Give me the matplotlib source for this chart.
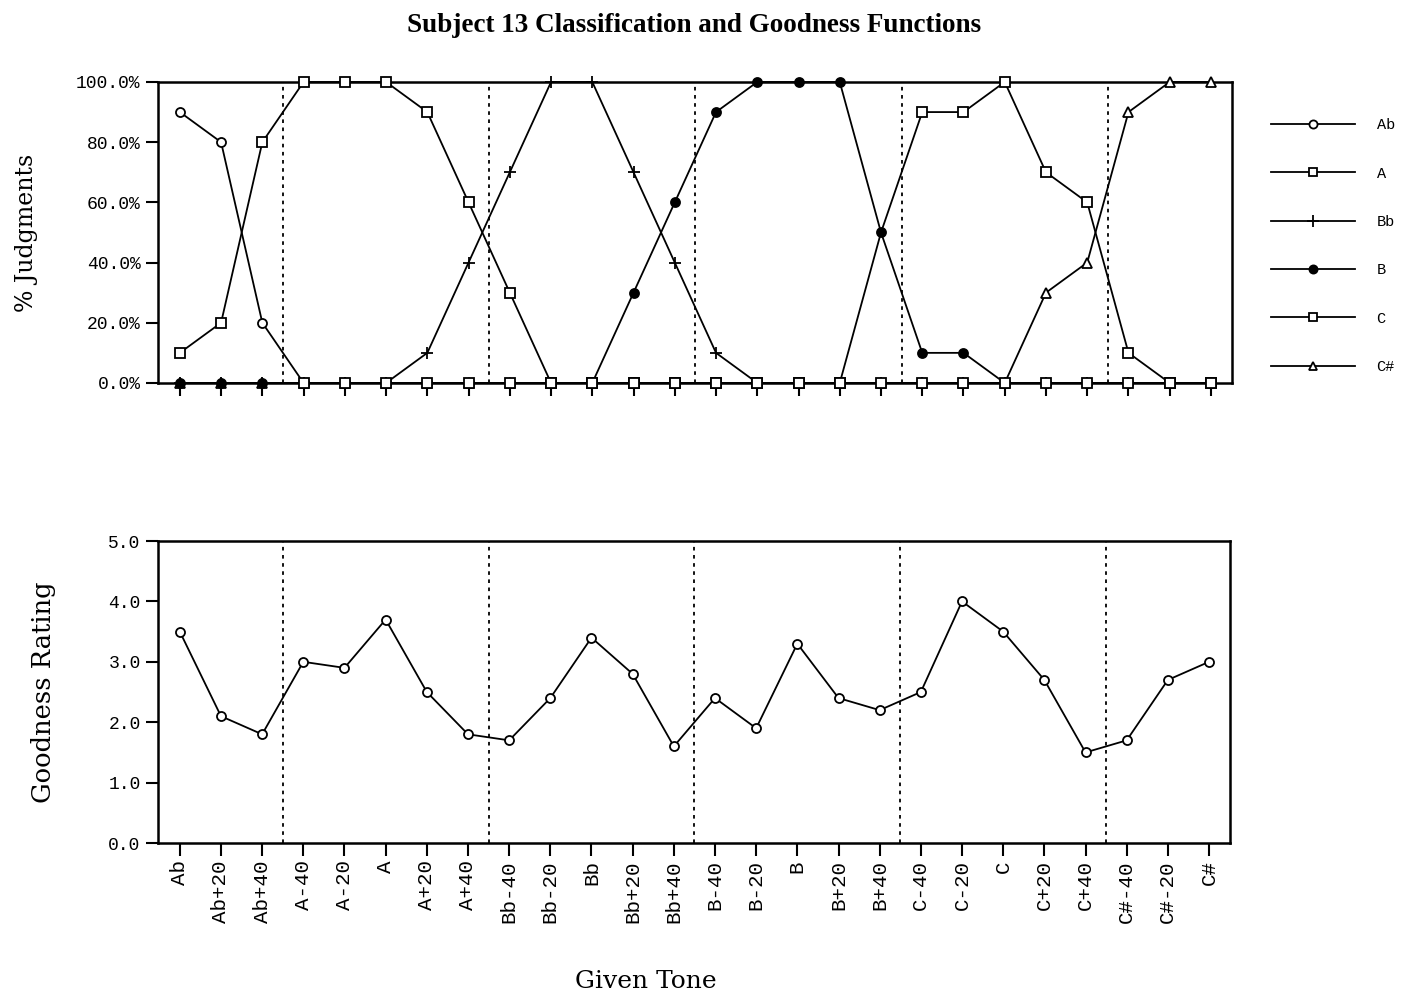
import matplotlib.pyplot as plt
from matplotlib.ticker import FuncFormatter

tones = ["Ab", "Ab+20", "Ab+40", "A-40", "A-20", "A", "A+20", "A+40",
         "Bb-40", "Bb-20", "Bb", "Bb+20", "Bb+40", "B-40", "B-20", "B",
         "B+20", "B+40", "C-40", "C-20", "C", "C+20", "C+40",
         "C#-40", "C#-20", "C#"]

# % judgments per response category
ab_pct = [90, 80, 20, 0, 0, 0, 0, 0, 0, 0, 0, 0, 0, 0, 0, 0, 0, 0, 0, 0, 0, 0, 0, 0, 0, 0]
a_pct = [10, 20, 80, 100, 100, 100, 90, 60, 30, 0, 0, 0, 0, 0, 0, 0, 0, 0, 0, 0, 0, 0, 0, 0, 0, 0]
bb_pct = [0, 0, 0, 0, 0, 0, 10, 40, 70, 100, 100, 70, 40, 10, 0, 0, 0, 0, 0, 0, 0, 0, 0, 0, 0, 0]
b_pct = [0, 0, 0, 0, 0, 0, 0, 0, 0, 0, 0, 30, 60, 90, 100, 100, 100, 50, 10, 10, 0, 0, 0, 0, 0, 0]
c_pct = [0, 0, 0, 0, 0, 0, 0, 0, 0, 0, 0, 0, 0, 0, 0, 0, 0, 50, 90, 90, 100, 70, 60, 10, 0, 0]
cs_pct = [0, 0, 0, 0, 0, 0, 0, 0, 0, 0, 0, 0, 0, 0, 0, 0, 0, 0, 0, 0, 0, 30, 40, 90, 100, 100]

goodness = [3.5, 2.1, 1.8, 3.0, 2.9, 3.7, 2.5, 1.8, 1.7, 2.4, 3.4, 2.8, 1.6,
            2.4, 1.9, 3.3, 2.4, 2.2, 2.5, 4.0, 3.5, 2.7, 1.5, 1.7, 2.7, 3.0]

# number of tones in each note group (for the dotted separators)
group_sizes = [3, 5, 5, 5, 5, 3]

x = list(range(len(tones)))
boundaries = []
pos = -0.5
for n in group_sizes[:-1]:
    pos += n
    boundaries.append(pos)

mono = "Liberation Mono"
serif = "DejaVu Serif"

fig = plt.figure(figsize=(14.08, 9.96), dpi=100)
ax1 = fig.add_axes([0.1122, 0.6155, 0.7628, 0.3022])
ax2 = fig.add_axes([0.1122, 0.1536, 0.7614, 0.3032])

lw = 1.3
ms = 6.5
common = dict(color="black", linewidth=lw, markersize=ms, markeredgewidth=1.3, clip_on=False)

ax1.plot(x, ab_pct, marker="o", markerfacecolor="white", label="Ab", zorder=3, **common)
ax1.plot(x, bb_pct, marker="+", markersize=9, color="black", linewidth=lw,
         markeredgewidth=1.3, label="Bb", zorder=3, clip_on=False)
ax1.plot(x, cs_pct, marker="^", markerfacecolor="white", label="C#", zorder=3, **common)
ax1.plot(x, b_pct, marker="o", markerfacecolor="black", label="B", zorder=4, **common)
ax1.plot(x, a_pct, marker="s", markerfacecolor="white", label="A", zorder=4.5, **common)
c_marks = [i for i in x if i > 2 and i != 17]
ax1.plot(x, c_pct, marker="s", markerfacecolor="white", label="C", zorder=5,
         markevery=c_marks, **common)

ax2.plot(x, goodness, marker="o", markerfacecolor="white", zorder=3, **common)

for ax in (ax1, ax2):
    for b in boundaries:
        ax.axvline(b, color="black", linestyle=(0, (2, 2.5)), linewidth=1.3, zorder=1)
    ax.set_xlim(-0.53, 25.51)
    ax.set_xticks(x)
    for s in ax.spines.values():
        s.set_linewidth(1.8)
    ax.tick_params(direction="out", length=9, width=1.5, color="black")

ax1.set_ylim(0, 100)
ax1.set_yticks([0, 20, 40, 60, 80, 100])
ax1.yaxis.set_major_formatter(FuncFormatter(lambda v, p: f"{v:.1f}%"))
ax1.set_xticklabels([])
ax1.tick_params(axis="y", labelsize=13)
for lab in ax1.get_yticklabels():
    lab.set_family(mono)
ax1.set_ylabel("% Judgments", family=serif, fontsize=17)
ax1.yaxis.set_label_coords(-0.112, 0.5)

ax2.set_ylim(0, 5)
ax2.set_yticks([0, 1, 2, 3, 4, 5])
ax2.yaxis.set_major_formatter(FuncFormatter(lambda v, p: f"{v:.1f}"))
ax2.tick_params(axis="y", labelsize=13)
for lab in ax2.get_yticklabels():
    lab.set_family(mono)
ax2.set_xticklabels(tones, rotation=90, family=mono, fontsize=15)
ax2.set_ylabel("Goodness Rating", family=serif, fontsize=18.5)
ax2.yaxis.set_label_coords(-0.095, 0.5)
ax2.set_xlabel("Given Tone", family=serif, fontsize=18)
ax2.xaxis.set_label_coords(0.455, -0.42)

fig.suptitle("Subject 13 Classification and Goodness Functions", x=0.493, y=0.987,
             family="Liberation Serif", fontweight="bold", fontsize=19.5)

handles, labels = ax1.get_legend_handles_labels()
order = ["Ab", "A", "Bb", "B", "C", "C#"]
hmap = dict(zip(labels, handles))
leg = fig.legend([hmap[k] for k in order], order, loc="upper left",
                 bbox_to_anchor=(0.893, 0.895), frameon=False,
                 prop={"family": mono, "size": 11}, handlelength=5.5,
                 handletextpad=1.4, labelspacing=2.25, markerscale=0.9)

fig.savefig("out.png", dpi=100, facecolor="white")
